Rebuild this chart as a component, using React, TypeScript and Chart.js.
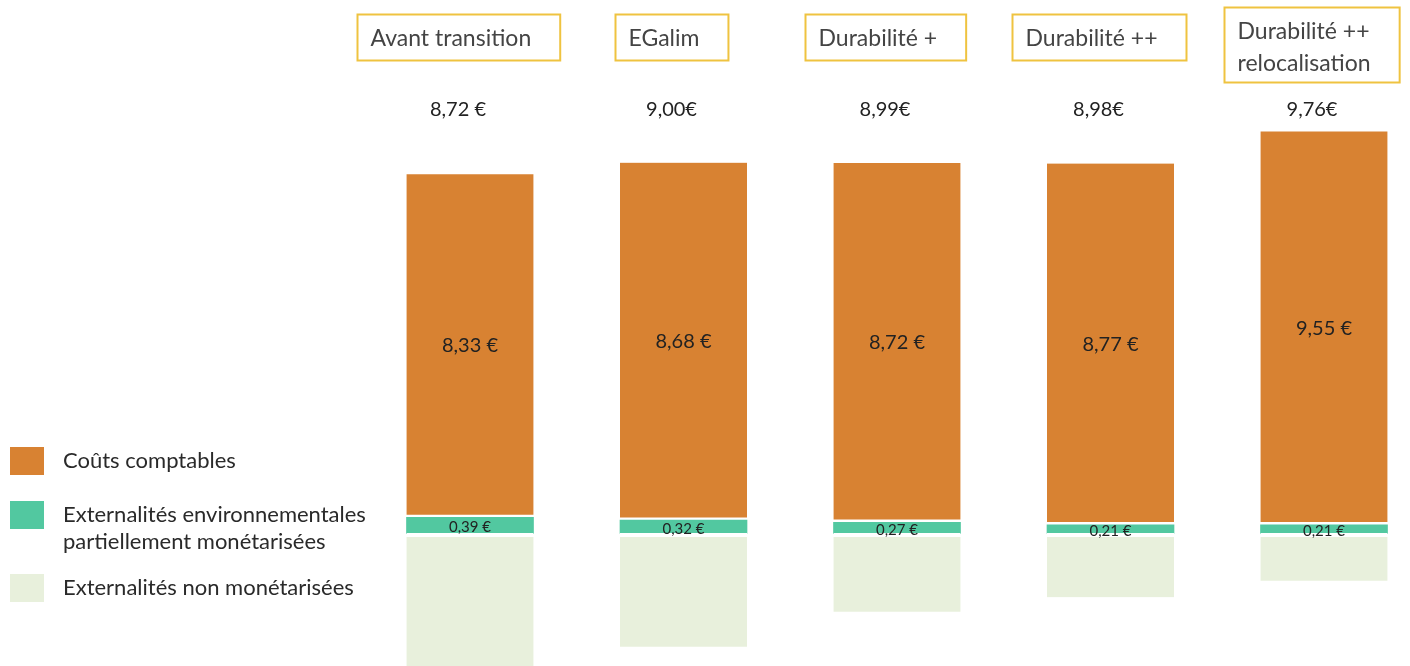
import React, { useEffect, useRef } from 'react';
import { Chart, registerables } from 'chart.js';

Chart.register(...registerables);

// ---- Data ----
const categories: (string | string[])[] = [
  'Avant transition',
  'EGalim',
  'Durabilité +',
  'Durabilité ++',
  ['Durabilité ++', 'relocalisation'],
];
const coutsComptables = [8.33, 8.68, 8.72, 8.77, 9.55];
const externalitesEnv = [0.39, 0.32, 0.27, 0.21, 0.21];
// non-monetised externalities: illustrative heights (no value printed)
const externalitesNonMonet = [3.4, 2.75, 1.9, 1.55, 1.15];
const totalLabels = ['8,72 €', '9,00€', '8,99€', '8,98€', '9,76€'];
const seriesNames: (string | string[])[] = [
  'Coûts comptables',
  ['Externalités environnementales', 'partiellement monétarisées'],
  'Externalités non monétarisées',
];

const COLORS = {
  cost: '#D88232',
  env: '#52C8A0',
  nonMonet: '#E8F0DC',
  box: '#EFC340',
  text: '#222222',
  boxText: '#444444',
};
const FONT = 'Lato, "Noto Sans", sans-serif';

const fmt = (v: number) => v.toFixed(2).replace('.', ',') + ' €';

const overlayPlugin = {
  id: 'overlay',
  afterDatasetsDraw(chart: any) {
    const ctx: CanvasRenderingContext2D = chart.ctx;
    const envMeta = chart.getDatasetMeta(1);
    const costMeta = chart.getDatasetMeta(2);
    ctx.save();

    // values inside segments
    ctx.fillStyle = COLORS.text;
    ctx.textAlign = 'center';
    ctx.textBaseline = 'middle';
    ctx.font = `20px ${FONT}`;
    costMeta.data.forEach((el: any, i: number) => {
      ctx.fillText(fmt(coutsComptables[i]), el.x, (el.y + el.base) / 2);
    });
    ctx.font = `15px ${FONT}`;
    envMeta.data.forEach((el: any, i: number) => {
      ctx.fillText(fmt(externalitesEnv[i]), el.x, (el.y + el.base) / 2 + 2);
    });

    // totals and category boxes
    ctx.textBaseline = 'alphabetic';
    costMeta.data.forEach((el: any, i: number) => {
      const cx = el.x - 12;
      ctx.font = `20px ${FONT}`;
      ctx.textAlign = 'center';
      ctx.fillStyle = COLORS.text;
      ctx.fillText(totalLabels[i], cx, 116);

      const cat = categories[i];
      const lines = Array.isArray(cat) ? cat : [cat];
      ctx.font = `23px ${FONT}`;
      const tw = Math.max(...lines.map((l) => ctx.measureText(l).width));
      const w = tw + 13 + 29;
      const h = lines.length === 1 ? 46 : 75;
      const top = lines.length === 1 ? 14.5 : 7.5;
      const left = Math.round(cx - w / 2) + 0.5;
      ctx.strokeStyle = COLORS.box;
      ctx.lineWidth = 2;
      ctx.strokeRect(left, top, w, h);
      ctx.textAlign = 'left';
      ctx.fillStyle = COLORS.boxText;
      lines.forEach((l, k) => ctx.fillText(l, left + 13, top + 31.5 + k * 32));
    });

    // legend
    const legend = [
      { color: COLORS.cost, top: 447, baseline: 468 },
      { color: COLORS.env, top: 501, baseline: 522 },
      { color: COLORS.nonMonet, top: 574, baseline: 595 },
    ];
    ctx.font = `22px ${FONT}`;
    ctx.textAlign = 'left';
    legend.forEach((it, k) => {
      ctx.fillStyle = it.color;
      ctx.fillRect(10, it.top, 34, 28);
      ctx.fillStyle = '#2a2a2a';
      const name = seriesNames[k];
      const lines = Array.isArray(name) ? name : [name];
      lines.forEach((l, j) => ctx.fillText(l, 63, it.baseline + j * 27));
    });

    ctx.restore();
  },
};

export default function App() {
  const canvasRef = useRef<HTMLCanvasElement | null>(null);

  useEffect(() => {
    if (!canvasRef.current) return;
    const labels = categories.map((c) => (Array.isArray(c) ? c.join(' ') : c));
    const chart = new Chart(canvasRef.current, {
      type: 'bar',
      data: {
        labels,
        datasets: [
          {
            label: 'Externalités non monétarisées',
            data: externalitesNonMonet.map((v) => -v),
            backgroundColor: COLORS.nonMonet,
            borderColor: '#ffffff',
            borderWidth: { top: 4, right: 0, bottom: 0, left: 0 },
            borderSkipped: false,
            barThickness: 127,
            clip: false as any,
          },
          {
            label: 'Externalités environnementales partiellement monétarisées',
            data: externalitesEnv,
            backgroundColor: COLORS.env,
            borderWidth: 0,
            barThickness: 127,
            clip: false as any,
          },
          {
            label: 'Coûts comptables',
            data: coutsComptables,
            backgroundColor: COLORS.cost,
            borderColor: '#ffffff',
            borderWidth: { top: 0, right: 0, bottom: 3, left: 0 },
            borderSkipped: false,
            barThickness: 127,
            clip: false as any,
          },
        ],
      },
      options: {
        responsive: false,
        animation: false,
        layout: { padding: { left: 470, right: 86, top: 0, bottom: 0 } },
        scales: {
          x: { display: false, stacked: true, offset: false, grid: { offset: false } },
          y: { display: false, stacked: true, min: -3.22, max: 12.95 },
        },
        plugins: {
          legend: { display: false },
          tooltip: { enabled: false },
        },
      },
      plugins: [overlayPlugin],
    });
    return () => chart.destroy();
  }, []);

  return (
    <div
      style={{
        position: 'absolute',
        left: 0,
        top: 0,
        width: 1410,
        height: 666,
        background: '#ffffff',
        overflow: 'hidden',
      }}
    >
      <canvas ref={canvasRef} width={1410} height={666} style={{ width: 1410, height: 666, display: 'block' }} />
    </div>
  );
}
